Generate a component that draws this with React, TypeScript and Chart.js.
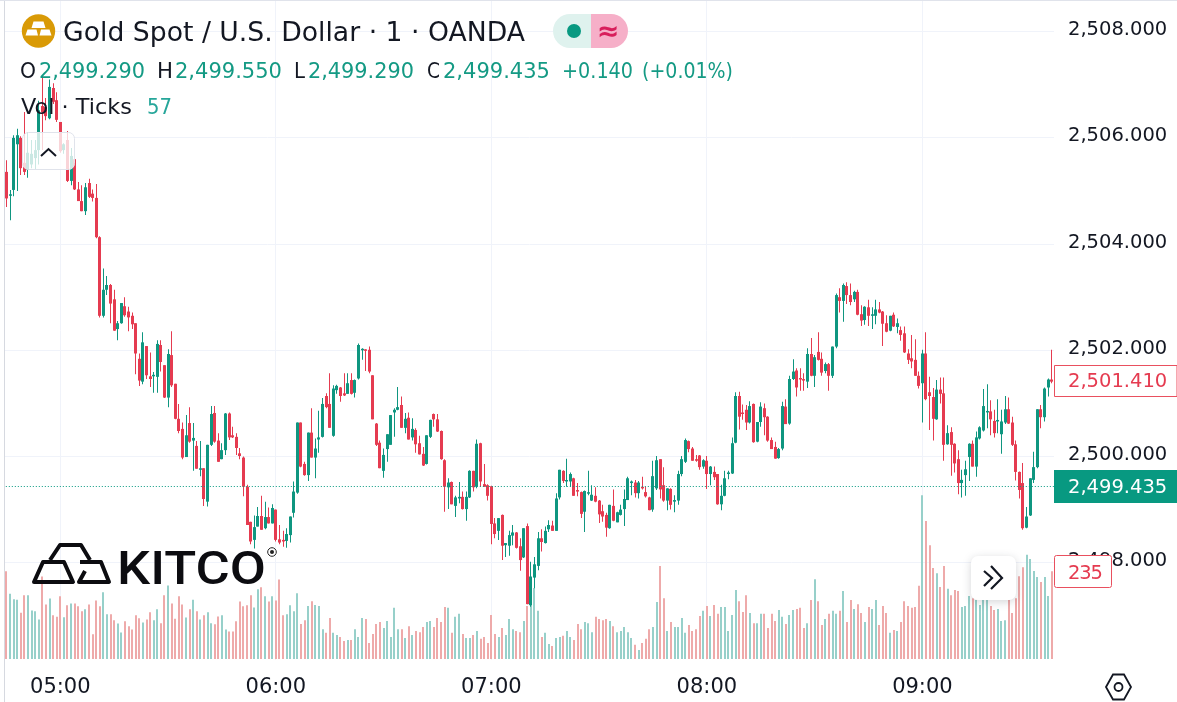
import React, { useEffect, useRef } from "react";
import { Chart, registerables } from "chart.js";

Chart.register(...registerables);

const FIRST_MINUTE = 285; // 04:45
const LAST_PRICE = 2499.435;

const opens = [
2505.36,2504.91,2505.02,2505.88,2506.00,2505.53,2505.40,2505.50,2505.62,2505.77,
2506.60,2506.58,2506.37,2506.94,2506.71,2506.30,2505.77,2505.96,2505.19,2505.60,
2505.03,2504.81,2504.62,2505.15,2504.95,2504.87,2504.13,2502.65,2503.14,2503.23,
2502.96,2502.40,2502.51,2502.83,2502.73,2502.65,2502.51,2501.84,2501.41,2502.08,
2501.51,2501.51,2501.50,2502.10,2501.72,2501.11,2501.91,2501.37,2500.71,2500.52,
2499.99,2500.63,2500.30,2500.20,2499.75,2499.78,2499.15,2500.22,2500.82,2500.30,
2499.95,2500.12,2500.81,2500.40,2500.37,2500.06,2499.98,2499.43,2498.77,2498.43,
2498.68,2498.88,2498.65,2498.86,2498.74,2499.00,2498.44,2498.43,2498.41,2498.52,
2498.94,2499.32,2500.64,2499.86,2499.65,2500.45,2499.98,2500.32,2500.37,2501.14,
2500.99,2500.39,2501.25,2501.30,2501.19,2501.18,2501.44,2501.20,2501.47,2502.00,
2502.01,2502.01,2501.53,2500.62,2500.26,2499.73,2500.14,2500.22,2500.83,2500.88,
2500.97,2500.54,2500.73,2500.36,2500.50,2500.25,2500.05,2499.86,2500.37,2500.80,
2500.70,2500.48,2499.93,2499.42,2499.52,2499.07,2499.21,2499.24,2499.01,2499.23,
2499.73,2499.43,2500.25,2499.48,2499.46,2499.44,2498.74,2498.60,2498.90,2498.33,
2498.32,2498.51,2498.57,2498.31,2498.10,2498.69,2497.20,2497.72,2497.94,2498.46,
2498.37,2498.63,2498.70,2498.60,2499.23,2499.73,2499.53,2499.53,2499.59,2499.36,
2499.33,2498.96,2499.30,2499.17,2499.26,2499.17,2498.97,2498.90,2498.65,2499.07,
2498.76,2498.90,2499.01,2499.18,2499.50,2499.51,2499.31,2499.43,2499.33,2499.23,
2499.00,2499.40,2499.95,2499.46,2499.17,2499.39,2499.15,2499.17,2499.67,2499.90,
2500.29,2500.15,2499.95,2500.02,2499.81,2499.92,2499.67,2499.71,2499.67,2499.10,
2499.26,2499.67,2499.68,2500.26,2501.14,2500.82,2500.88,2500.64,2500.99,2500.28,
2500.65,2500.91,2500.75,2500.31,2500.18,2499.97,2500.15,2500.94,2500.62,2501.46,
2501.62,2501.47,2501.45,2501.41,2501.93,2501.52,2501.97,2501.84,2501.61,2501.74,
2501.52,2502.07,2503.00,2502.93,2503.21,2503.04,2502.96,2503.10,2502.68,2502.57,
2502.81,2502.65,2502.65,2502.77,2502.73,2502.51,2502.37,2502.67,2502.44,2502.38,
2502.32,2501.94,2501.85,2501.82,2501.52,2501.38,2501.94,2501.21,2501.12,2500.70,
2501.26,2501.19,2500.23,2500.46,2500.24,2499.95,2499.50,2499.65,2499.99,2500.24,
2499.81,2500.34,2500.49,2500.83,2500.85,2500.67,2500.66,2500.42,2500.64,2500.89,
2500.64,2500.23,2499.71,2499.50,2498.66,2498.89,2499.56,2499.80,2500.89,2500.74,2501.30,2501.45,
];

const closes = [
2504.86,2504.93,2506.00,2506.05,2505.43,2505.36,2505.72,2505.70,2505.77,2506.52,
2506.48,2506.41,2506.96,2506.68,2506.34,2505.75,2505.88,2505.19,2505.66,2505.03,
2504.81,2504.62,2505.07,2504.89,2504.87,2504.13,2502.65,2503.14,2503.23,2502.88,
2502.37,2502.51,2502.89,2502.66,2502.62,2502.49,2501.94,2501.43,2502.15,2501.53,
2501.46,2501.53,2502.12,2501.78,2501.11,2501.93,2501.34,2500.71,2500.48,2499.98,
2500.40,2500.28,2500.35,2499.77,2499.77,2499.20,2500.22,2500.80,2500.28,2499.90,
2500.12,2500.81,2500.36,2500.36,2500.16,2500.01,2499.43,2498.71,2498.40,2498.67,
2498.88,2498.62,2498.86,2498.74,2499.03,2498.43,2498.38,2498.40,2498.54,2498.87,
2499.34,2500.64,2499.81,2499.65,2500.45,2499.98,2500.15,2500.36,2500.99,2500.93,
2500.54,2501.28,2501.33,2501.14,2501.15,2501.38,2501.18,2501.44,2502.10,2502.01,
2501.99,2501.60,2500.70,2500.22,2499.78,2500.03,2500.42,2500.78,2500.88,2500.93,
2500.54,2500.71,2500.32,2500.52,2500.23,2500.04,2499.83,2500.40,2500.69,2500.70,
2500.47,2499.95,2499.43,2499.51,2499.10,2499.23,2499.24,2499.01,2499.24,2499.73,
2499.42,2500.24,2499.53,2499.43,2499.26,2498.73,2498.54,2498.84,2498.32,2498.37,
2498.52,2498.57,2498.28,2498.05,2498.65,2497.22,2497.74,2497.97,2498.46,2498.39,
2498.60,2498.71,2498.60,2499.21,2499.75,2499.54,2499.55,2499.67,2499.26,2499.34,
2498.92,2499.35,2499.32,2499.28,2499.15,2498.91,2498.87,2498.66,2499.09,2498.79,
2498.95,2499.00,2499.20,2499.59,2499.53,2499.31,2499.51,2499.40,2499.25,2498.99,
2499.63,2499.93,2499.38,2499.17,2499.40,2499.09,2499.18,2499.67,2499.95,2500.31,
2500.14,2499.92,2499.92,2499.80,2499.93,2499.67,2499.81,2499.61,2499.10,2499.26,
2499.59,2499.70,2500.25,2501.14,2500.75,2500.80,2500.64,2500.95,2500.27,2500.65,
2500.94,2500.74,2500.30,2500.14,2499.96,2500.14,2500.95,2500.61,2501.46,2501.60,
2501.30,2501.45,2501.43,2501.93,2501.52,2501.87,2501.82,2501.58,2501.74,2501.52,
2502.07,2503.04,2502.93,2503.23,2503.04,2502.91,2503.10,2502.67,2502.56,2502.82,
2502.65,2502.67,2502.77,2502.71,2502.50,2502.35,2502.65,2502.45,2502.51,2502.29,
2501.96,2501.82,2501.79,2501.52,2501.33,2501.94,2501.08,2501.14,2500.71,2501.26,
2501.18,2500.22,2500.44,2500.22,2499.87,2499.50,2499.56,2499.76,2500.24,2499.81,
2500.36,2500.55,2500.95,2500.85,2500.70,2500.44,2500.68,2500.66,2500.89,2500.62,
2500.22,2499.71,2499.37,2498.65,2498.87,2499.59,2499.80,2500.89,2500.74,2501.28,2501.45,2501.41,
];

const highs = [
2505.58,2505.02,2506.05,2506.17,2506.03,2506.49,2506.10,2505.96,2505.96,2506.70,
2507.13,2506.75,2507.10,2507.03,2506.86,2506.30,2505.90,2506.13,2505.81,2505.66,
2505.17,2505.11,2505.15,2505.23,2505.03,2505.13,2504.15,2503.54,2503.40,2503.25,
2503.14,2502.55,2502.89,2503.00,2502.82,2502.71,2502.51,2501.94,2502.34,2502.08,
2501.96,2501.59,2502.19,2502.19,2501.72,2502.02,2502.36,2501.37,2500.99,2500.64,
2500.78,2500.93,2500.63,2500.29,2500.29,2499.78,2500.22,2500.95,2500.95,2500.44,
2500.25,2500.82,2500.83,2500.56,2500.44,2500.16,2500.00,2499.47,2498.77,2498.89,
2499.05,2499.26,2499.15,2499.04,2499.10,2499.00,2498.71,2498.60,2498.65,2498.87,
2499.53,2500.64,2500.64,2499.90,2500.45,2500.91,2500.34,2500.86,2501.10,2501.19,
2501.57,2501.34,2501.35,2501.31,2501.57,2501.57,2501.57,2501.45,2502.13,2502.04,
2502.02,2502.07,2501.53,2500.63,2500.30,2500.15,2500.42,2500.78,2500.91,2501.31,
2501.13,2500.82,2500.83,2500.72,2500.53,2500.39,2500.18,2500.40,2500.69,2500.81,
2500.80,2500.49,2499.95,2499.59,2499.53,2499.26,2499.52,2499.34,2499.34,2499.74,
2499.73,2500.32,2500.26,2499.86,2499.48,2499.45,2498.84,2498.84,2498.91,2498.37,
2498.60,2498.71,2498.58,2498.46,2498.65,2498.74,2498.02,2498.11,2498.58,2498.63,
2498.68,2498.80,2498.79,2499.31,2499.75,2499.74,2499.96,2499.70,2499.60,2499.50,
2499.34,2499.36,2499.73,2499.46,2499.42,2499.18,2499.09,2498.94,2499.09,2499.38,
2498.96,2499.09,2499.38,2499.62,2499.55,2499.56,2499.54,2499.62,2499.43,2499.24,
2499.92,2500.01,2499.95,2499.80,2499.40,2499.40,2499.27,2499.73,2500.01,2500.34,
2500.30,2500.18,2500.03,2500.03,2499.95,2500.01,2499.82,2499.81,2499.67,2499.47,
2499.73,2499.73,2500.36,2501.21,2501.22,2500.98,2500.97,2501.04,2501.00,2500.65,
2501.02,2501.00,2500.76,2500.36,2500.28,2500.16,2501.03,2501.08,2501.52,2501.83,
2501.66,2501.66,2501.57,2502.04,2502.23,2501.91,2502.34,2501.96,2501.77,2501.76,
2502.07,2503.07,2503.17,2503.26,2503.28,2503.26,2503.12,2503.14,2502.85,2502.83,
2502.95,2502.81,2502.95,2502.91,2502.74,2502.66,2502.65,2502.71,2502.60,2502.45,
2502.45,2502.02,2502.29,2502.21,2501.60,2502.01,2502.34,2501.50,2501.29,2501.44,
2501.49,2501.49,2500.59,2500.55,2500.25,2500.12,2499.75,2499.92,2500.25,2500.30,
2500.47,2500.57,2501.27,2501.36,2501.06,2500.88,2501.08,2500.88,2501.14,2501.11,
2500.75,2500.30,2499.72,2499.88,2499.05,2499.59,2500.09,2500.89,2500.97,2501.30,2501.47,2502.01,
];

const lows = [
2504.70,2504.45,2504.90,2505.00,2505.30,2505.30,2505.25,2505.43,2505.40,2505.50,
2505.77,2506.33,2506.35,2506.64,2506.30,2505.72,2505.70,2505.17,2505.11,2505.02,
2504.81,2504.62,2504.55,2504.87,2504.80,2504.11,2502.62,2502.62,2503.04,2502.51,
2502.37,2502.19,2502.50,2502.63,2502.36,2502.40,2501.55,2501.33,2501.36,2501.46,
2501.31,2501.20,2501.20,2501.60,2501.10,2500.93,2501.31,2500.70,2500.44,2499.95,
2499.99,2500.26,2499.73,2499.77,2499.63,2499.07,2499.06,2500.20,2500.26,2499.90,
2499.95,2500.03,2500.31,2500.35,2500.03,2499.95,2499.25,2498.71,2498.35,2498.27,
2498.68,2498.62,2498.63,2498.74,2498.74,2498.40,2498.35,2498.30,2498.28,2498.38,
2498.85,2499.30,2499.80,2499.64,2499.54,2499.98,2499.59,2500.07,2500.36,2500.91,
2500.54,2500.37,2501.18,2501.03,2501.14,2501.18,2501.17,2501.11,2501.45,2501.82,
2501.61,2501.57,2500.70,2500.20,2499.78,2499.60,2499.90,2500.22,2500.37,2500.87,
2500.54,2500.44,2500.32,2500.30,2500.07,2500.04,2499.82,2499.85,2500.35,2500.56,
2500.46,2499.94,2498.96,2499.01,2499.10,2498.86,2499.12,2499.00,2498.79,2499.22,
2499.34,2499.40,2499.43,2499.43,2499.17,2498.35,2498.46,2498.43,2498.05,2498.11,
2498.13,2498.33,2498.27,2497.85,2498.09,2497.22,2497.17,2497.52,2497.86,2498.21,
2498.36,2498.58,2498.60,2498.60,2499.19,2499.50,2499.43,2499.43,2499.26,2499.25,
2498.84,2498.58,2499.27,2499.16,2499.14,2498.75,2498.77,2498.49,2498.64,2498.78,
2498.76,2498.89,2498.69,2499.18,2499.27,2499.23,2499.21,2499.38,2499.23,2498.99,
2498.96,2499.37,2499.21,2499.15,2498.99,2499.00,2498.95,2499.09,2499.63,2499.88,
2500.08,2499.92,2499.90,2499.75,2499.77,2499.39,2499.46,2499.56,2499.09,2498.99,
2499.25,2499.57,2499.67,2500.25,2500.51,2500.69,2500.50,2500.62,2500.26,2500.27,
2500.56,2500.40,2500.28,2500.14,2499.96,2499.96,2500.12,2500.61,2500.60,2501.44,
2501.13,2501.24,2501.24,2501.29,2501.51,2501.31,2501.81,2501.52,2501.57,2501.24,
2501.48,2502.04,2502.71,2502.54,2502.87,2502.85,2502.91,2502.66,2502.46,2502.48,
2502.46,2502.40,2502.49,2502.70,2502.08,2502.34,2502.36,2502.44,2502.32,2502.18,
2501.95,2501.74,2501.66,2501.52,2501.28,2500.64,2501.06,2500.50,2500.30,2500.69,
2501.00,2499.92,2500.22,2499.64,2499.70,2499.29,2499.23,2499.26,2499.54,2499.81,
2499.62,2500.32,2500.47,2500.53,2500.40,2500.36,2500.44,2500.05,2500.61,2500.61,
2500.20,2499.55,2499.21,2498.62,2498.65,2498.88,2499.50,2499.78,2500.53,2500.66,2501.13,2501.38,
];

const volumes = [
235,175,160,159,124,171,171,130,128,106,
221,146,162,117,113,168,112,144,149,149,
141,128,133,146,66,157,141,179,120,120,
104,95,71,101,88,79,117,109,98,106,
125,104,133,96,171,197,149,108,168,146,
111,133,159,128,106,117,125,96,93,114,
117,79,74,74,101,154,141,144,171,138,
187,192,168,154,168,157,213,117,120,144,
128,176,94,104,142,155,145,142,80,70,
110,70,64,59,48,51,51,80,59,110,
107,43,67,94,99,83,102,59,137,80,
80,56,88,64,75,72,86,99,102,86,
110,99,139,137,70,113,121,67,56,56,
64,75,54,59,43,118,67,59,83,64,
107,80,75,72,102,142,150,190,129,59,
70,40,35,56,59,62,75,59,51,94,
80,99,96,72,113,107,104,107,102,88,
72,75,86,72,56,38,24,43,54,80,
86,153,249,163,75,99,86,86,110,70,
91,75,80,115,129,142,115,145,121,139,
139,75,118,185,155,126,171,123,96,96,
121,121,83,121,102,131,113,94,118,131,
134,137,83,96,158,214,155,91,107,121,
129,121,129,182,99,158,134,147,123,99,
139,134,158,91,142,123,70,78,75,99,
155,142,137,139,196,439,370,305,244,230,
193,249,188,171,185,182,139,142,169,163,
158,145,158,158,142,131,134,102,104,158,
123,163,222,246,279,268,236,220,206,220,
169,235,
];

const UP = "#0f9680";
const DOWN = "#e53b50";
const VOL_UP = "#97d0ca";
const VOL_DOWN = "#eeaaaa";
const TEXT = "#131722";
const AXIS_FONT = "DejaVu Sans";

const minuteOf = (i: number) => FIRST_MINUTE + i;
const isUp = (i: number) => closes[i] >= opens[i];

const snapBars = {
  id: "snapBars",
  afterDatasetsUpdate(chart: any) {
    chart.data.datasets.forEach((ds: any, k: number) => {
      if (ds.type === "line") return;
      const even = ds.barThickness % 2 === 0;
      chart.getDatasetMeta(k).data.forEach((el: any) => {
        el.x = even ? Math.round(el.x) : Math.floor(el.x) + 0.5;
      });
    });
  },
};

function noPadding(s: any) {
  s.paddingTop = 0;
  s.paddingBottom = 0;
  s.paddingLeft = 0;
  s.paddingRight = 0;
}

function Overlay() {
  const t = (x: number, y: number, s: string, len: number, size: number, fill: string) => (
    <text x={x} y={y} fontFamily={AXIS_FONT} fontSize={size} fill={fill} textLength={len} lengthAdjust="spacingAndGlyphs">{s}</text>
  );
  return (
    <svg width={1177} height={702} style={{ position: "absolute", left: 0, top: 0, pointerEvents: "none" }}>
      <line x1={4.5} y1={0} x2={4.5} y2={702} stroke="#d6d9e0" />
      <line x1={0} y1={0.5} x2={1177} y2={0.5} stroke="#e0e3eb" />
      {/* collapse button */}
      <rect x={22.5} y={132.5} width={52} height={37} rx={6} fill="#ffffff" fillOpacity={0.78} stroke="#e0e3eb" />
      <path d="M41 156 L48.5 149 L56 156" fill="none" stroke={TEXT} strokeWidth={2} />
      {/* symbol icon */}
      <circle cx={38.5} cy={31} r={16.7} fill="#d99a06" />
      <path d="M33.5 21.5 H43.5 L45.5 28 H31.5 Z M25.5 35.5 L27.5 29.5 H36.5 L38 35.5 Z M39.5 35.5 L41 29.5 H49.5 L51.5 35.5 Z" fill="#fff" />
      {/* title and values */}
      {t(63, 41, "Gold Spot / U.S. Dollar · 1 · OANDA", 462, 26, TEXT)}
      {t(20, 78, "O", 16, 21, TEXT)}
      {t(39, 78, "2,499.290", 106, 21, "#149a84")}
      {t(157, 78, "H", 16, 21, TEXT)}
      {t(175, 78, "2,499.550", 107, 21, "#149a84")}
      {t(294, 78, "L", 11, 21, TEXT)}
      {t(308, 78, "2,499.290", 106, 21, "#149a84")}
      {t(427, 78, "C", 13, 21, TEXT)}
      {t(443, 78, "2,499.435", 107, 21, "#149a84")}
      {t(562, 78, "+0.140", 71, 21, "#149a84")}
      {t(642, 78, "(+0.01%)", 91, 21, "#149a84")}
      {t(21, 114, "Vol · Ticks", 111, 21, TEXT)}
      {t(147, 114, "57", 25, 21, "#26a69a")}
      {/* status badges */}
      <path d="M591 14 H570 A17 17 0 0 0 570 48 H591 Z" fill="#dff2ee" />
      <path d="M591 14 H611 A17 17 0 0 1 611 48 H591 Z" fill="#f6afc8" />
      <circle cx={574} cy={31} r={7} fill="#089981" />
      <text x={608} y={40} textAnchor="middle" fontFamily={AXIS_FONT} fontSize={27} fontWeight={700} fill="#d81e5b">≈</text>
      {/* logo */}
      <g fill="none" stroke="#0c0c10" strokeWidth={4} strokeLinejoin="round">
        <path d="M50 560 L60 545 H81 L90 560" />
        <path d="M43 562 H64 L73 582 H34 Z" />
        <path d="M80 562 H101 L109 582 H79 L85 571" />
      </g>
      <text x={117} y={584} fontFamily="Roboto" fontWeight={500} fontSize={46} fill="#0c0c10" textLength={149} lengthAdjust="spacingAndGlyphs">KITCO</text>
      <circle cx={272} cy={552} r={4.3} fill="#fff" stroke="#222" strokeWidth={1} />
      <circle cx={272} cy={552} r={2} fill="#222" />
      {/* price tags */}
      <path d="M1054.5 365.5 H1177 V396.5 H1054.5 Z" fill="#fff" stroke="#e9505f" />
      <text x={1068} y={387} fontFamily={AXIS_FONT} fontSize={19.5} fill="#e53b50">2,501.410</text>
      <rect x={1054} y={470} width={123} height={33} fill="#089981" />
      <text x={1068} y={493} fontFamily={AXIS_FONT} fontSize={19.5} fill="#fff">2,499.435</text>
      <rect x={1054.5} y={555.5} width={57} height={32} rx={2} fill="#fff" stroke="#e9505f" />
      <text x={1068} y={579} fontFamily={AXIS_FONT} fontSize={19.5} fill="#e53b50" textLength={35}>235</text>
      {/* scroll button */}
      <rect x={971} y={556} width={45} height={44} rx={7} fill="#fff" style={{ filter: "drop-shadow(0 2px 4px rgba(19,23,34,.18))" }} />
      <path d="M984 571 L992 578 L984 586 M991 566 L1002 578 L991 589" fill="none" stroke={TEXT} strokeWidth={2.2} />
      {/* settings */}
      <path d="M1106 687 L1113 674.5 H1124 L1131 687 L1124 699.5 H1113 Z" fill="none" stroke={TEXT} strokeWidth={1.8} />
      <circle cx={1118.5} cy={687} r={4} fill="none" stroke={TEXT} strokeWidth={1.8} />
    </svg>
  );
}

export default function App() {
  const ref = useRef<HTMLCanvasElement>(null);
  useEffect(() => {
    document.body.style.margin = "0";
    const idx = opens.map((_, i) => i);
    const priceColor = idx.map((i) => (isUp(i) ? UP : DOWN));
    const chart = new Chart(ref.current as HTMLCanvasElement, {
      type: "bar",
      data: {
        datasets: [
          {
            label: "Volume",
            yAxisID: "vol",
            order: 5,
            barThickness: 2,
            grouped: false,
            inflateAmount: 0,
            backgroundColor: idx.map((i) => (isUp(i) ? VOL_UP : VOL_DOWN)),
            data: volumes.map((v, i) => ({ x: minuteOf(i), y: v })),
          },
          {
            label: "Wicks",
            yAxisID: "y",
            order: 3,
            barThickness: 1,
            grouped: false,
            inflateAmount: 0,
            backgroundColor: priceColor,
            data: idx.map((i) => ({ x: minuteOf(i), y: [lows[i], highs[i]] })),
          },
          {
            label: "Bodies",
            yAxisID: "y",
            order: 2,
            barThickness: 3,
            grouped: false,
            inflateAmount: 0,
            minBarLength: 1.5,
            backgroundColor: priceColor,
            data: idx.map((i) => ({ x: minuteOf(i), y: [opens[i], closes[i]] })),
          },
          {
            type: "line",
            label: "Last",
            yAxisID: "y",
            order: 1,
            borderColor: "#089981",
            borderWidth: 1,
            borderDash: [1, 2],
            pointRadius: 0,
            data: [
              { x: 284, y: LAST_PRICE },
              { x: 577, y: LAST_PRICE },
            ],
          },
        ],
      } as any,
      plugins: [snapBars],
      options: {
        animation: false,
        responsive: false,
        events: [],
        layout: { autoPadding: false, padding: { left: 5, top: 1, right: 0, bottom: 0 } },
        plugins: { legend: { display: false }, tooltip: { enabled: false } },
        scales: {
          x: {
            type: "linear",
            offset: false,
            min: 284.605,
            max: 576.64,
            grid: { color: "#f0f3fa", drawTicks: false, offset: false },
            border: { display: false },
            afterFit(s: any) {
              s.height = 42;
              noPadding(s);
            },
            ticks: {
              stepSize: 60,
              includeBounds: false,
              autoSkip: false,
              maxRotation: 0,
              padding: 15,
              color: TEXT,
              font: { family: AXIS_FONT, size: 21 },
              callback: (v: any) => `${String(Math.floor(v / 60)).padStart(2, "0")}:00`,
            },
          },
          y: {
            type: "linear",
            position: "right",
            min: 2496.168,
            max: 2508.578,
            grid: { color: "#f0f3fa", drawTicks: false },
            border: { display: false },
            afterFit(s: any) {
              s.width = 123;
              noPadding(s);
            },
            ticks: {
              stepSize: 2,
              includeBounds: false,
              padding: 14,
              labelOffset: -1.5,
              color: TEXT,
              font: { family: AXIS_FONT, size: 19.5 },
              callback: (v: any) =>
                Number(v).toLocaleString("en-US", { minimumFractionDigits: 3, maximumFractionDigits: 3 }),
            },
          },
          vol: { type: "linear", display: false, min: -2.68, max: 1763 },
        },
      } as any,
    });
    return () => chart.destroy();
  }, []);
  return (
    <div style={{ position: "relative", width: 1177, height: 702, background: "#fff" }}>
      <canvas ref={ref} width={1177} height={702} style={{ position: "absolute", left: 0, top: 0 }} />
      <Overlay />
    </div>
  );
}
